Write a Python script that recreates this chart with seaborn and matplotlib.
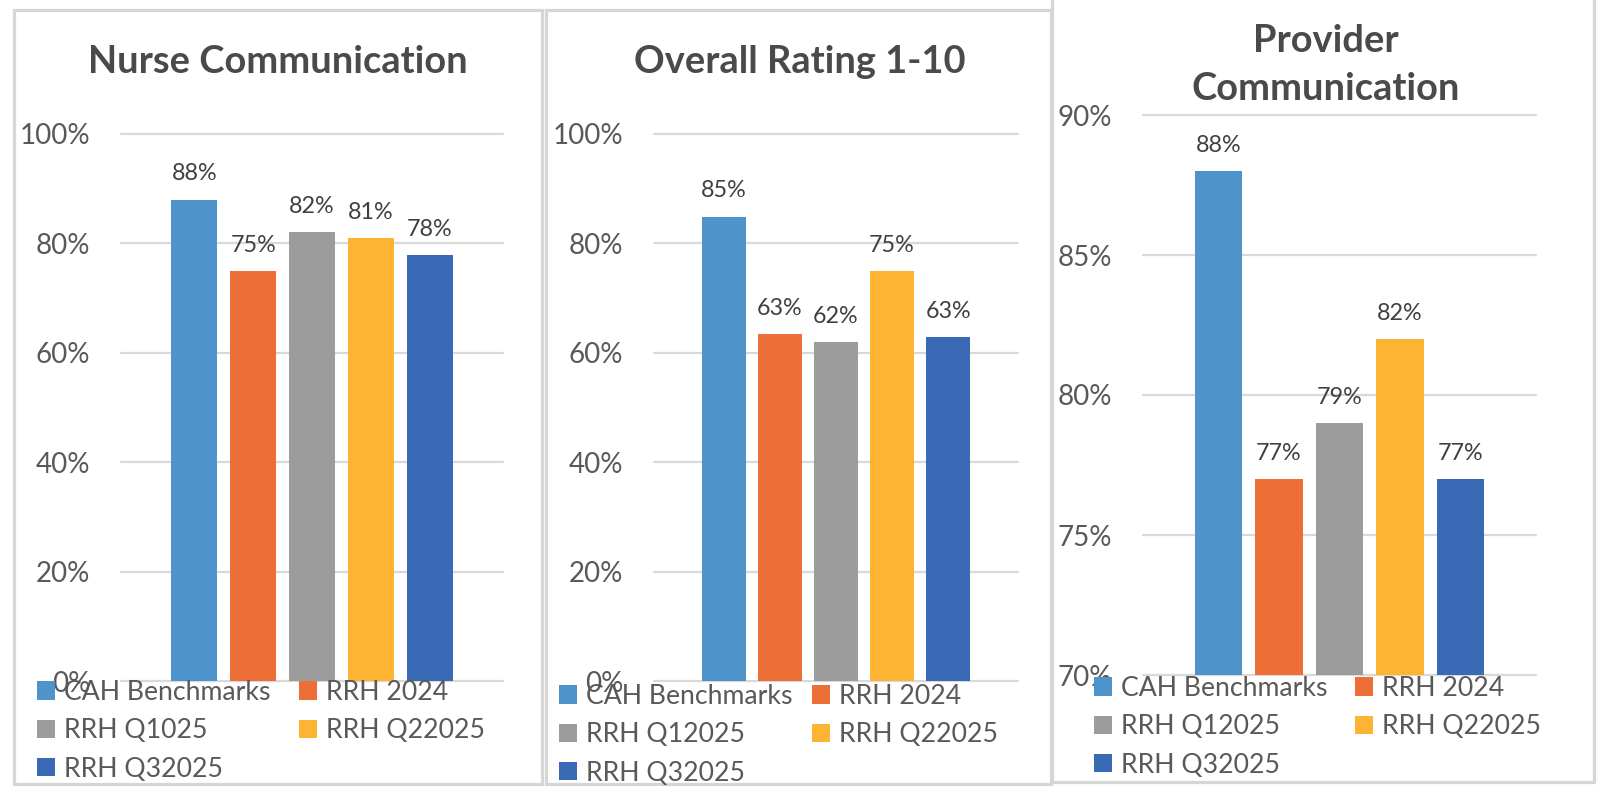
import matplotlib
matplotlib.use("Agg")
import matplotlib.pyplot as plt
import seaborn as sns
import pandas as pd
from matplotlib.patches import Rectangle, Patch
from matplotlib.ticker import PercentFormatter, FixedLocator

# ---------------- data ----------------
titles = ["Nurse Communication", "Overall Rating 1-10", "Provider\nCommunication"]
series_nurse = ["CAH Benchmarks", "RRH 2024", "RRH Q1025", "RRH Q22025", "RRH Q32025"]
series_std = ["CAH Benchmarks", "RRH 2024", "RRH Q12025", "RRH Q22025", "RRH Q32025"]
nurse_values = [0.880, 0.749, 0.820, 0.809, 0.779]
overall_values = [0.849, 0.634, 0.619, 0.749, 0.629]
provider_values = [0.880, 0.770, 0.790, 0.820, 0.770]
pct_ticks_full = [0.0, 0.2, 0.4, 0.6, 0.8, 1.0]
pct_ticks_provider = [0.70, 0.75, 0.80, 0.85, 0.90]
colors = ["#4F93CB", "#EB6F37", "#9C9C9C", "#FEB433", "#3A69B5"]

sns.set_theme(style="white")
plt.rcParams["font.family"] = ["Lato", "DejaVu Sans"]

W, H = 1610, 798
fig = plt.figure(figsize=(W / 100, H / 100), dpi=100)
fig.patch.set_facecolor("white")

def fx(px):
    return px / W

def fy(py):
    return 1 - py / H

# panel frames (left, top, right, bottom) in pixels
frames = [(14, 10, 542, 784), (546, 10, 1051, 784), (1052, -6, 1594, 782)]
for (l, t, r, b) in frames:
    fig.add_artist(Rectangle((fx(l), fy(b)), fx(r - l), (b - t) / H,
                             transform=fig.transFigure, fill=False,
                             edgecolor="#D6D6D6", linewidth=2.3, zorder=0))

# axes boxes (left, top, right, bottom) in pixels
boxes = [(121, 134, 503, 681), (654, 134, 1018, 681), (1143, 115, 1536, 675)]
title_pos = [(278, 62), (800, 62), (1326, 65)]
legend_pos = [(37, 680, 262), (559, 684, 253), (1094, 676, 261)]
panels = [
    (series_nurse, nurse_values, pct_ticks_full),
    (series_std, overall_values, pct_ticks_full),
    (series_std, provider_values, pct_ticks_provider),
]

fs_leg = 19.2
fig.canvas.draw()
renderer = fig.canvas.get_renderer()

for i, ((names, vals, ticks), (l, t, r, b)) in enumerate(zip(panels, boxes)):
    ax = fig.add_axes([fx(l), fy(b), fx(r - l), (b - t) / H])
    df = pd.DataFrame({"metric": [titles[i]] * len(names), "series": names, "value": vals})
    sns.barplot(data=df, x="metric", y="value", hue="series", hue_order=names,
                palette=colors, width=0.77, gap=0.22, ax=ax, legend=False,
                linewidth=0, saturation=1, errorbar=None)
    ax.set_ylim(ticks[0], ticks[-1])
    ax.yaxis.set_major_locator(FixedLocator(ticks))
    ax.yaxis.set_major_formatter(PercentFormatter(1.0, decimals=0))
    ax.tick_params(axis="y", length=0, pad=22, labelsize=20, labelcolor="#595959")
    ax.set_xticks([])
    ax.set_xlabel("")
    ax.set_ylabel("")
    for s in ax.spines.values():
        s.set_visible(False)
    ax.grid(axis="y", color="#D9D9D9", linewidth=1.6)
    ax.set_axisbelow(True)
    for gl in ax.get_ygridlines():
        gl.set_clip_on(False)
    for c in ax.containers:
        ax.bar_label(c, labels=[f"{v * 100:.0f}%" for v in c.datavalues],
                     padding=11, fontsize=16.8, color="#404040")
    tx, ty = title_pos[i]
    fig.text(fx(tx), fy(ty), titles[i], ha="center", va="center",
             fontsize=27.4, fontweight="bold", color="#4A4A4A", linespacing=1.47)

    # legend (row-major like the original, so reorder for column filling)
    handles = [Patch(facecolor=colors[k], edgecolor="none") for k in range(len(names))]
    order = [0, 2, 4, 1, 3]
    lx, ly, col_off = legend_pos[i]
    fs_px = fs_leg * 100 / 72
    tmp = fig.text(0, 0, names[0], fontsize=fs_leg)
    wtext = tmp.get_window_extent(renderer).width
    tmp.remove()
    hl, htp = 0.68, 0.34
    colsp = (col_off - (hl + htp) * fs_px - wtext) / fs_px
    leg = ax.legend([handles[k] for k in order], [names[k] for k in order],
                    loc="upper left", bbox_to_anchor=(fx(lx), fy(ly)),
                    bbox_transform=fig.transFigure, ncol=2, frameon=False,
                    fontsize=fs_leg, handlelength=hl, handleheight=hl,
                    handletextpad=htp, columnspacing=colsp, labelspacing=0.5,
                    borderpad=0, borderaxespad=0, labelcolor="#595959")
    leg.set_zorder(5)

fig.savefig("out.png", dpi=100, facecolor="white")
